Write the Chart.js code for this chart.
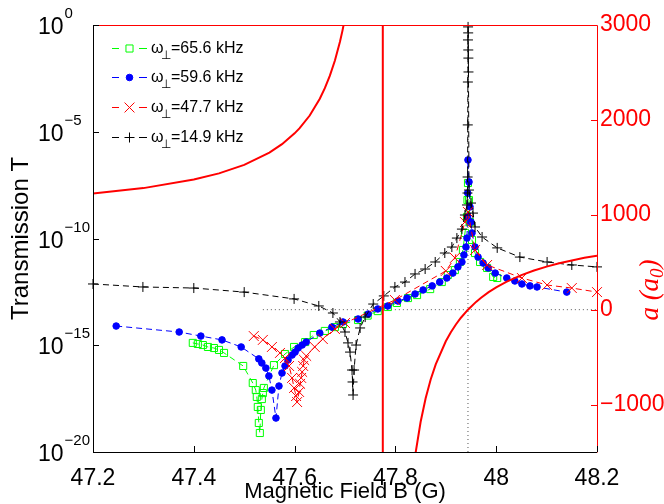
<!DOCTYPE html>
<html>
<head>
<meta charset="utf-8">
<script src="https://cdn.jsdelivr.net/npm/chart.js@4.4.1/dist/chart.umd.min.js"></script>
<style>
  html, body { margin: 0; padding: 0; background: #fff; overflow: hidden; }
  canvas { display: block; }
</style>
</head>
<body>
<canvas id="c" width="664" height="504"></canvas>
<script>
// axis ticks
const xTicks = [47.2, 47.4, 47.6, 47.8, 48.0, 48.2];
const tExponents = [-20, -15, -10, -5, 0];
const aTicks = [-1000, 0, 1000, 2000, 3000];

// w = 65.6 kHz (green squares), log10 of T
const b656 = [47.398, 47.408, 47.418, 47.428, 47.440, 47.450, 47.460, 47.498, 47.517, 47.523, 47.525, 47.527, 47.529, 47.531, 47.533, 47.535, 47.537, 47.539, 47.559, 47.581, 47.599, 47.621, 47.638, 47.660, 47.680, 47.696, 47.726, 47.745, 47.765, 47.785, 47.803, 47.825, 47.843, 47.869, 47.892, 47.904, 47.918, 47.928, 47.934, 47.938, 47.942, 47.943, 47.944, 47.946, 47.948, 47.952, 47.958, 47.968, 47.982, 47.994, 48.002];
const logT656 = [-14.89, -14.94, -14.99, -15.08, -15.13, -15.22, -15.36, -15.97, -16.77, -17.10, -17.42, -17.89, -18.64, -19.11, -18.03, -17.52, -17.24, -17.00, -15.93, -15.41, -15.08, -14.85, -14.52, -14.33, -14.15, -14.00, -13.82, -13.61, -13.40, -13.21, -13.02, -12.79, -12.65, -12.37, -12.04, -11.71, -11.48, -11.10, -10.54, -9.74, -8.99, -8.20, -7.40, -8.20, -9.23, -10.07, -10.68, -11.10, -11.38, -11.80, -11.85];

// w = 59.6 kHz (blue dots)
const b596 = [47.246, 47.371, 47.414, 47.456, 47.494, 47.529, 47.535, 47.543, 47.549, 47.555, 47.563, 47.569, 47.575, 47.581, 47.587, 47.595, 47.601, 47.607, 47.615, 47.623, 47.650, 47.674, 47.696, 47.726, 47.746, 47.765, 47.785, 47.805, 47.823, 47.839, 47.855, 47.873, 47.888, 47.902, 47.914, 47.924, 47.932, 47.936, 47.940, 47.942, 47.943, 47.9435, 47.944, 47.946, 47.948, 47.950, 47.952, 47.958, 47.964, 47.974, 47.984, 47.998, 48.021, 48.037, 48.051, 48.067, 48.081, 48.140];
const logT596 = [-14.10, -14.38, -14.57, -14.75, -15.08, -15.64, -15.83, -16.07, -16.44, -17.10, -18.41, -16.91, -16.30, -15.97, -15.69, -15.46, -15.32, -15.13, -14.99, -14.85, -14.43, -14.15, -13.91, -13.77, -13.54, -13.30, -13.16, -12.93, -12.79, -12.60, -12.41, -12.22, -12.04, -11.85, -11.62, -11.33, -11.10, -10.77, -10.40, -9.98, -8.99, -7.87, -6.32, -7.35, -8.52, -9.23, -9.74, -10.40, -10.87, -11.15, -11.38, -11.62, -11.85, -11.99, -12.13, -12.22, -12.27, -12.51];

// w = 47.7 kHz (red crosses)
const b477 = [47.519, 47.537, 47.555, 47.571, 47.581, 47.589, 47.595, 47.599, 47.603, 47.605, 47.609, 47.611, 47.613, 47.615, 47.617, 47.619, 47.623, 47.640, 47.656, 47.680, 47.700, 47.799, 47.900, 47.918, 47.938, 47.944, 47.958, 47.982, 48.051, 48.101, 48.150, 48.200];
const logT477 = [-14.57, -14.75, -15.08, -15.36, -15.60, -15.97, -16.53, -17.00, -17.38, -17.66, -17.19, -16.81, -16.53, -16.25, -15.97, -15.69, -15.50, -15.08, -14.71, -14.24, -13.96, -12.88, -11.52, -10.91, -9.23, -8.76, -10.54, -11.24, -11.85, -12.18, -12.32, -12.51];

// w = 14.9 kHz (black plus)
const b149 = [47.200, 47.299, 47.400, 47.500, 47.599, 47.648, 47.676, 47.690, 47.700, 47.706, 47.710, 47.714, 47.715, 47.716, 47.718, 47.722, 47.730, 47.740, 47.756, 47.777, 47.799, 47.819, 47.839, 47.859, 47.879, 47.898, 47.912, 47.922, 47.932, 47.938, 47.942, 47.9430, 47.9433, 47.9436, 47.9438, 47.9440, 47.9442, 47.9444, 47.9446, 47.9448, 47.9450, 47.946, 47.950, 47.954, 47.958, 47.972, 48.002, 48.047, 48.101, 48.150, 48.200];
const logT149 = [-12.13, -12.27, -12.32, -12.51, -12.83, -13.16, -13.49, -13.91, -14.38, -14.89, -15.32, -16.16, -16.72, -17.33, -16.16, -14.99, -14.19, -13.68, -13.07, -12.69, -12.27, -12.04, -11.66, -11.43, -11.10, -10.68, -10.40, -9.98, -9.56, -8.90, -8.43, -7.87, -7.12, -4.68, -2.67, -0.70, -0.09, -0.37, -1.17, -1.55, -2.20, -7.73, -8.34, -8.81, -9.46, -9.93, -10.44, -10.87, -11.10, -11.24, -11.33];

// scattering length a (a0), right axis
const curveB = [47.2, 47.3, 47.4, 47.45, 47.5, 47.55, 47.575, 47.6, 47.61, 47.63, 47.65, 47.66, 47.67, 47.68, 47.69, 47.695, 47.70, 47.71, 47.775, 47.775, 47.83, 47.84, 47.85, 47.86, 47.87, 47.88, 47.9, 47.91, 47.92, 47.93, 47.944, 47.96, 47.97, 47.985, 48.0, 48.02, 48.05, 48.075, 48.1, 48.125, 48.15, 48.175, 48.2];
const curveA = [1223, 1281, 1371, 1436, 1526, 1655, 1744, 1858, 1913, 2046, 2223, 2334, 2466, 2626, 2824, 2941, 3074, 3402, 3402, -1959, -1959, -1512, -1184, -934, -736, -576, -333, -238, -156, -85, 0, 82, 126, 185, 235, 293, 364, 413, 454, 489, 519, 546, 569];

// guide lines
const zeroLineB = [47.537, 48.2];
const resonanceB = 47.944;

const legendNames = ['65.6 kHz', '59.6 kHz', '47.7 kHz', '14.9 kHz'];

const FONT = '"Liberation Sans", Arial, sans-serif';

function pts(bs, ys) { return bs.map((b, i) => ({ x: b, y: ys[i] })); }
function logPts(bs, es) { return bs.map((b, i) => ({ x: b, y: Math.pow(10, es[i]) })); }

const series = [
  { name: legendNames[0], color: '#00ff00', style: 'rect', radius: 5, fill: 'rgba(0,0,0,0)' },
  { name: legendNames[1], color: '#0000ff', style: 'circle', radius: 3.3, fill: '#0000ff' },
  { name: legendNames[2], color: '#ff0000', style: 'crossRot', radius: 7, fill: '#ff0000' },
  { name: legendNames[3], color: '#000000', style: 'cross', radius: 5, fill: '#000000' }
];

const frame = {
  id: 'frame',
  afterDraw(chart) {
    const ctx = chart.ctx;
    const a = chart.chartArea;
    const xs = chart.scales.x, ys = chart.scales.y, y2 = chart.scales.y2;
    ctx.save();
    ctx.lineWidth = 1;
    ctx.setLineDash([]);
    // box
    ctx.strokeStyle = '#000';
    ctx.beginPath();
    ctx.moveTo(a.left + 0.5, a.top); ctx.lineTo(a.left + 0.5, a.bottom + 0.5);
    ctx.lineTo(a.right, a.bottom + 0.5);
    ctx.stroke();
    ctx.strokeStyle = '#ff0000';
    ctx.beginPath();
    ctx.moveTo(a.left, a.top + 0.5); ctx.lineTo(a.right + 0.5, a.top + 0.5);
    ctx.lineTo(a.right + 0.5, a.bottom + 0.5);
    ctx.stroke();
    // ticks
    ctx.strokeStyle = '#000';
    ctx.beginPath();
    xTicks.forEach(v => {
      const px = Math.round(xs.getPixelForValue(v)) + 0.5;
      ctx.moveTo(px, a.bottom); ctx.lineTo(px, a.bottom - 6);
    });
    tExponents.forEach(e => {
      const py = Math.round(ys.getPixelForValue(Math.pow(10, e))) + 0.5;
      ctx.moveTo(a.left, py); ctx.lineTo(a.left + 6, py);
    });
    ctx.stroke();
    ctx.strokeStyle = '#ff0000';
    ctx.beginPath();
    aTicks.forEach(v => {
      const py = Math.round(y2.getPixelForValue(v)) + 0.5;
      ctx.moveTo(a.right, py); ctx.lineTo(a.right - 6, py);
    });
    ctx.stroke();

    // left tick labels 10^e
    ctx.fillStyle = '#000';
    ctx.textAlign = 'left';
    ctx.textBaseline = 'alphabetic';
    tExponents.forEach(e => {
      const py = ys.getPixelForValue(Math.pow(10, e));
      ctx.font = '23px ' + FONT;
      ctx.fillText('10', 38, py + 9);
      const w = ctx.measureText('10').width;
      ctx.font = '15px ' + FONT;
      ctx.fillText(e === 0 ? '0' : '\u2212' + Math.abs(e), 38 + w + 1, py - 7);
    });

    // axis titles
    ctx.font = '22px ' + FONT;
    ctx.textAlign = 'center';
    ctx.fillText('Magnetic Field B (G)', (a.left + a.right) / 2, 498);
    ctx.save();
    ctx.translate(28, (a.top + a.bottom) / 2);
    ctx.rotate(-Math.PI / 2);
    ctx.font = '24px ' + FONT;
    ctx.fillText('Transmission T', 0, 0);
    ctx.restore();

    // right title: a (a0)
    ctx.save();
    ctx.translate(658, 290);
    ctx.rotate(-Math.PI / 2);
    ctx.fillStyle = '#ff0000';
    ctx.textAlign = 'left';
    const big = 'italic 27px "Liberation Serif", "Times New Roman", serif';
    const small = 'italic 19px "Liberation Serif", "Times New Roman", serif';
    ctx.font = big;
    const p1 = 'a (a', p3 = ')';
    const w1 = ctx.measureText(p1).width, w3 = ctx.measureText(p3).width;
    ctx.font = small;
    const w2 = ctx.measureText('0').width;
    let x0 = -(w1 + w2 + w3) / 2;
    ctx.font = big; ctx.fillText(p1, x0, 0);
    ctx.font = small; ctx.fillText('0', x0 + w1, 5);
    ctx.font = big; ctx.fillText(p3, x0 + w1 + w2, 0);
    ctx.restore();

    // legend
    const rows = [48, 77, 107, 137];
    series.forEach((s, i) => {
      const y = rows[i];
      ctx.strokeStyle = s.color;
      ctx.lineWidth = 1;
      ctx.beginPath();
      ctx.moveTo(112, y + 0.5); ctx.lineTo(119, y + 0.5);
      ctx.moveTo(139, y + 0.5); ctx.lineTo(147, y + 0.5);
      ctx.stroke();
      ctx.fillStyle = s.fill;
      Chart.helpers.drawPoint(ctx, { pointStyle: s.style, radius: s.radius, rotation: 0, borderWidth: 1 }, 129.5, y + 0.5);
      ctx.fillStyle = '#000';
      ctx.textAlign = 'left';
      ctx.font = '16px ' + FONT;
      ctx.fillText('\u03c9', 151, y + 5);
      ctx.font = '12px ' + FONT;
      ctx.fillText('\u22a5', 161, y + 11);
      ctx.font = '16px ' + FONT;
      ctx.fillText('=' + s.name, 171, y + 5);
    });
    ctx.restore();
  }
};

function dataSet(s, bs, es, order) {
  return {
    data: logPts(bs, es), yAxisID: 'y',
    borderColor: s.color, borderWidth: 1, borderDash: [6, 4],
    pointStyle: s.style, pointRadius: s.radius, pointBorderColor: s.color,
    pointBackgroundColor: s.fill, pointBorderWidth: 1, pointHoverRadius: s.radius,
    clip: false, order: order, tension: 0
  };
}

new Chart(document.getElementById('c').getContext('2d'), {
  type: 'line',
  data: {
    datasets: [
      { data: pts(curveB, curveA), yAxisID: 'y2', borderColor: '#ff0000', borderWidth: 2, pointRadius: 0, order: 0, tension: 0 },
      dataSet(series[3], b149, logT149, 1),
      dataSet(series[2], b477, logT477, 2),
      dataSet(series[1], b596, logT596, 3),
      dataSet(series[0], b656, logT656, 4),
      { data: pts(zeroLineB, [0, 0]), yAxisID: 'y2', borderColor: '#555', borderWidth: 1, borderDash: [1, 3], pointRadius: 0, order: 5 },
      { data: pts([resonanceB, resonanceB], [-1500, 3000]), yAxisID: 'y2', borderColor: '#555', borderWidth: 1, borderDash: [1, 3], pointRadius: 0, order: 5 }
    ]
  },
  options: {
    responsive: false,
    animation: false,
    events: [],
    layout: { padding: { top: 25, left: 0, right: 0, bottom: 0 } },
    plugins: { legend: { display: false }, tooltip: { enabled: false } },
    scales: {
      x: {
        type: 'linear', min: 47.2, max: 48.2,
        afterBuildTicks: s => { s.ticks = xTicks.map(v => ({ value: v })); },
        afterFit: s => { s.height = 52; },
        grid: { display: false, drawTicks: false },
        border: { display: false },
        ticks: { color: '#000', font: { family: FONT, size: 23 }, padding: 13, maxRotation: 0,
                 callback: v => String(+v.toFixed(1)) }
      },
      y: {
        type: 'logarithmic', position: 'left', min: 1e-20, max: 1,
        afterBuildTicks: s => { s.ticks = tExponents.map(e => ({ value: Math.pow(10, e) })); },
        afterFit: s => { s.width = 93; },
        grid: { display: false, drawTicks: false },
        border: { display: false },
        ticks: { display: false }
      },
      y2: {
        type: 'linear', position: 'right', min: -1500, max: 3000,
        afterBuildTicks: s => { s.ticks = aTicks.map(v => ({ value: v })); },
        afterFit: s => { s.width = 67; },
        grid: { display: false, drawTicks: false },
        border: { display: false },
        ticks: { color: '#ff0000', font: { family: FONT, size: 23 }, padding: 3,
                 callback: v => v < 0 ? '\u2212' + Math.abs(v) : String(v) }
      }
    }
  },
  plugins: [frame]
});
</script>
</body>
</html>
